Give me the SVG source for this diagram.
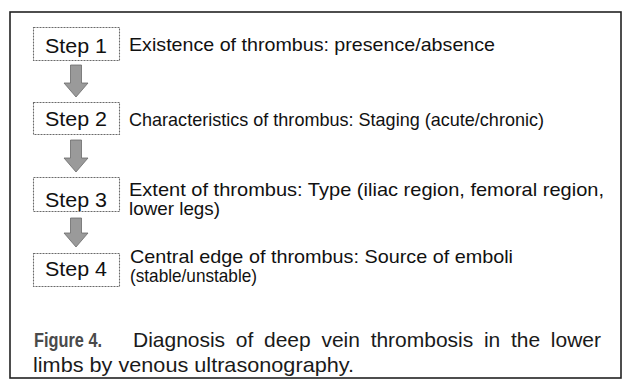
<svg xmlns="http://www.w3.org/2000/svg" width="624" height="381" viewBox="0 0 624 381">
<style>
.frame{fill:none;stroke:#222;stroke-width:1.6}
.box{fill:#fff;stroke:#6a6a6a;stroke-width:1.1;stroke-dasharray:2 1}
.arrow{fill:#9a9a9a;stroke:#6a6a6a;stroke-width:0.8}
.t{font-family:"Liberation Sans",Arial,sans-serif;font-size:19px;fill:#111}
.s{font-family:"Liberation Sans",Arial,sans-serif;font-size:20px;fill:#111;text-anchor:middle}
.cap{font-family:"Liberation Sans",Arial,sans-serif;font-size:21px;fill:#1a1a1a}
.capb{font-family:"Liberation Sans",Arial,sans-serif;font-size:20px;font-weight:bold;fill:#4a4a4a}
</style>
<rect width="624" height="381" fill="#fff"/>
<rect class="frame" x="10" y="12" width="611" height="366"/>
<g id="connectors">
<path class="arrow" d="M70.5,65 H81.5 V83 H88 L76,97 L64,83 H70.5 Z"/>
<path class="arrow" d="M70.5,140 H81.5 V158 H88 L76,172 L64,158 H70.5 Z"/>
<path class="arrow" d="M70.5,218 H81.5 V233 H88 L76,247 L64,233 H70.5 Z"/>
</g>
<g id="step1">
<rect class="box" x="33.5" y="27.5" width="86" height="33"/>
<text class="s" x="76" y="53" textLength="62" lengthAdjust="spacingAndGlyphs">Step 1</text>
<text class="t" x="129" y="51" textLength="366" lengthAdjust="spacingAndGlyphs">Existence of thrombus: presence/absence</text>
</g>
<g id="step2">
<rect class="box" x="33.5" y="102.5" width="86" height="32"/>
<text class="s" x="76" y="126" textLength="62" lengthAdjust="spacingAndGlyphs">Step 2</text>
<text class="t" x="129" y="126" textLength="415" lengthAdjust="spacingAndGlyphs">Characteristics of thrombus: Staging (acute/chronic)</text>
</g>
<g id="step3">
<rect class="box" x="33.5" y="177.5" width="86" height="34"/>
<text class="s" x="76" y="207" textLength="62" lengthAdjust="spacingAndGlyphs">Step 3</text>
<text class="t" x="129" y="196" textLength="475" lengthAdjust="spacingAndGlyphs">Extent of thrombus: Type (iliac region, femoral region,</text>
<text class="t" x="129" y="215" textLength="91" lengthAdjust="spacingAndGlyphs">lower legs)</text>
</g>
<g id="step4">
<rect class="box" x="33.5" y="253.5" width="86" height="33"/>
<text class="s" x="76" y="276" textLength="62" lengthAdjust="spacingAndGlyphs">Step 4</text>
<text class="t" x="130" y="263" textLength="383" lengthAdjust="spacingAndGlyphs">Central edge of thrombus: Source of emboli</text>
<text class="t" x="130" y="282" textLength="127" lengthAdjust="spacingAndGlyphs">(stable/unstable)</text>
</g>
<g id="caption">
<text class="capb" x="34" y="347" textLength="68" lengthAdjust="spacingAndGlyphs">Figure 4.</text>
<text class="cap" x="133" y="347" word-spacing="4.9" textLength="468" lengthAdjust="spacing">Diagnosis of deep vein thrombosis in the lower</text>
<text class="cap" x="33" y="372" textLength="321" lengthAdjust="spacingAndGlyphs">limbs by venous ultrasonography.</text>
</g>
</svg>
